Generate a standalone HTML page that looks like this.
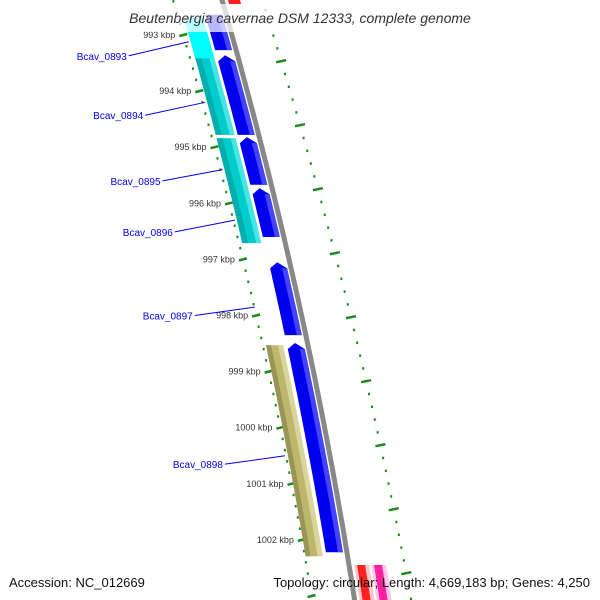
<!DOCTYPE html>
<html><head><meta charset="utf-8"><style>
body{margin:0;background:#fff}
svg{display:block;font-family:"Liberation Sans","DejaVu Sans",sans-serif}
</style></head><body>
<svg id="map" width="600" height="600" viewBox="0 0 600 600">
<g id="layer"></g>
<rect x="112" y="4" width="378" height="28" fill="#fff" fill-opacity="0.72"/>
<text x="300" y="23" text-anchor="middle" font-size="14" font-style="italic" fill="#333">Beutenbergia cavernae DSM 12333, complete genome</text>
<text x="9" y="587" font-size="13" fill="#111">Accession: NC_012669</text>
<text x="590" y="587" text-anchor="end" font-size="13" fill="#111">Topology: circular; Length: 4,669,183 bp; Genes: 4,250</text>
</svg>
<script>
const tickKbp=[993,994,995,996,997,998,999,1000,1001,1002];
const blueGenes=[[992.64,993.27],[993.36,994.78],[994.82,995.67],[995.73,996.60],[997.05,998.35],[998.49,1002.22]];
const cyanGenes=[[992.70,994.78],[994.84,996.71]];
const oliveGenes=[[998.53,1002.29]];
const geneLabels=["Bcav_0893","Bcav_0894","Bcav_0895","Bcav_0896","Bcav_0897","Bcav_0898"];
const labelKbp=[993.37,994.43,995.6,996.51,998.0,1000.65];
const labelAnchorKbp=[993.12,994.2,995.4,996.3,997.85,1000.5];

const NS="http://www.w3.org/2000/svg";
const layer=document.getElementById('layer');
const Y=k=>35+(k-993)*56.1;
const C=y=>222+0.287*y-0.00011*y*y;
function mk(t,a){const e=document.createElementNS(NS,t);for(const k in a)e.setAttribute(k,a[k]);layer.appendChild(e);return e;}
function band(y0,y1,o0,o1,arrow){
  const pts=[];const n=12;
  for(let i=0;i<=n;i++){const y=y0+(y1-y0)*i/n+(i==0&&arrow?6:0);pts.push([C(y)+o1,y]);}
  for(let i=n;i>=0;i--){const y=y0+(y1-y0)*i/n+(i==0&&arrow?6:0);pts.push([C(y)+o0,y]);}
  if(arrow){pts.push([C(y0)+(o0+o1)/2,y0]);}
  return pts.map(p=>p[0].toFixed(1)+','+p[1].toFixed(1)).join(' ');
}
// backbone
let d='';for(let y=-5;y<=605;y+=10)d+=(y<0?'M':'L')+C(y).toFixed(1)+','+y;
let g=mk('path',{d:d,stroke:'#888',"stroke-width":5,fill:'none'});


// rulers
const offL=y=>-49+6*y/540, offR=y=>43+12*(y-97)/443;
for(let k=992.4;k<=1003.2;k+=0.2){
  const kk=Math.round(k*10)/10;const y=Y(kk);const maj=Math.abs(kk-Math.round(kk))<0.01;
  const x=C(y)+offL(y);
  const e=mk('line',{x1:x-(maj?4:1),y1:y+(maj?1:0),x2:x+(maj?4:1),y2:y-(maj?1:0),stroke:'#1a8a1a',"stroke-width":maj?2.5:2.5});
  
  
}
for(let i=-2;i<60;i++){
  const y=10+i*12.8;if(y>600||y<0)continue;const maj=((i%5)+5)%5==4;
  const x=C(y)+offR(y);
  const e=mk('line',{x1:x-(maj?5:1),y1:y+(maj?1:0),x2:x+(maj?5:1),y2:y-(maj?1:0),stroke:'#1a8a1a',"stroke-width":2.5});
  
  
}
tickKbp.forEach(k=>{const y=Y(k);const x=C(y)+offL(y)-8;
  const t=mk('text',{x:x,y:y+3,"text-anchor":"end","font-size":9,fill:'#333'});t.textContent=k+' kbp';
  
  });
// genes
cyanGenes.forEach((gn,i)=>{
  const e=mk('polygon',{points:band(Y(gn[0]),Y(gn[1]),-43,-24,false),fill:'#00cccc'});
  
  
  mk('polygon',{points:band(Y(gn[0]),Y(gn[1]),-43,-37,false),fill:'#009999',"fill-opacity":0.6});
  mk('polygon',{points:band(Y(gn[0]),Y(gn[1]),-29,-24,false),fill:'#66eeee',"fill-opacity":0.7});
  if(i==0)mk('polygon',{points:band(Y(gn[0]),Y(gn[0])+40,-43,-24,false),fill:'#00ffff'});
});
oliveGenes.forEach(gn=>{
  const e=mk('polygon',{points:band(Y(gn[0]),Y(gn[1]),-42,-25,false),fill:'#bdb76b'});
  
  
  mk('polygon',{points:band(Y(gn[0]),Y(gn[1]),-42,-37,false),fill:'#8a8550',"fill-opacity":0.7});
  mk('polygon',{points:band(Y(gn[0]),Y(gn[1]),-30,-25,false),fill:'#e0dcaa',"fill-opacity":0.8});
});
blueGenes.forEach((gn,i)=>{
  const e=mk('polygon',{points:band(Y(gn[0]),Y(gn[1]),-21,-4,i>0),fill:'#0000ee'});
  
  
  mk('polygon',{points:band(Y(gn[0])+6,Y(gn[1]),-9,-4,false),fill:'#4444ff'});
});
// red/pink features
[[5,20,'#ff2020','#ffc8c8'],[22,37,'#ff20a0','#ffc8e8']].forEach(f=>{
  mk('polygon',{points:band(565,605,f[0],f[1],false),fill:f[3]});
  const e=mk('polygon',{points:band(565,605,f[0]+3,f[1]-4,false),fill:f[2]});
  
  
});
mk('polygon',{points:band(-5,4,6,18,false),fill:'#ff2020'});
// labels
geneLabels.forEach((L,i)=>{
  const ya=Y(labelAnchorKbp[i]);const xa=C(ya)-45;const yl=Y(labelKbp[i]);
  const xl=xa-62;
  const ln=mk('line',{x1:xl+2,y1:yl,x2:xa,y2:ya,stroke:'#0000ee',"stroke-width":1});
  
  
  const t=mk('text',{x:xl,y:yl+4,"text-anchor":"end","font-size":10,fill:'#0000ee'});t.textContent=L;
  
  
});
</script>
</body></html>
